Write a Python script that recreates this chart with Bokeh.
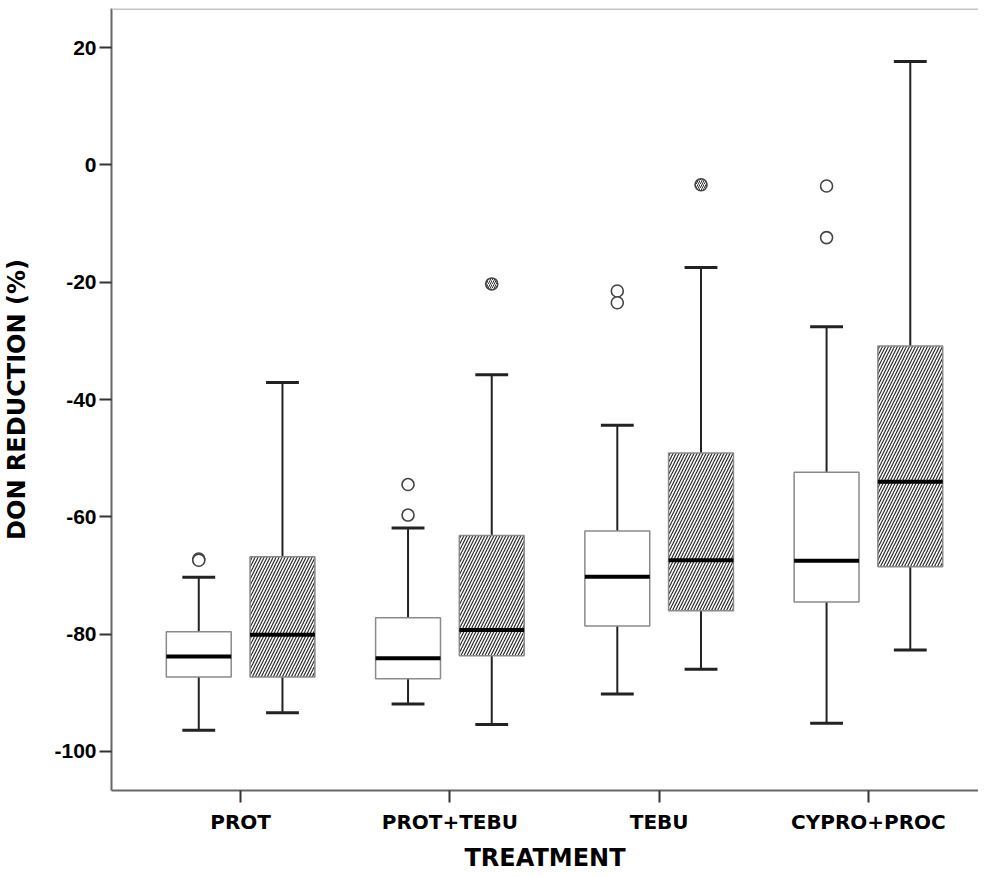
from bokeh.plotting import figure
from bokeh.models import Range1d, FixedTicker, Span, ColumnDataSource
from bokeh.embed import file_html
from bokeh.resources import INLINE

# ---- data ----
categories = ["PROT", "PROT+TEBU", "TEBU", "CYPRO+PROC"]

# first group (open boxes)
w_lower = [-96.4, -91.9, -90.2, -95.2]
w_q1 = [-87.3, -87.6, -78.6, -74.5]
w_median = [-83.8, -84.1, -70.2, -67.5]
w_q3 = [-79.6, -77.2, -62.4, -52.4]
w_upper = [-70.3, -61.9, -44.4, -27.6]
w_out_cat = [0, 0, 1, 1, 2, 2, 3, 3]
w_out_val = [-67.2, -67.4, -54.5, -59.7, -21.5, -23.5, -3.6, -12.4]

# second group (hatched boxes)
h_lower = [-93.4, -95.4, -86.0, -82.7]
h_q1 = [-87.3, -83.7, -76.0, -68.5]
h_median = [-80.1, -79.3, -67.4, -54.0]
h_q3 = [-66.8, -63.2, -49.1, -30.9]
h_upper = [-37.1, -35.8, -17.5, 17.6]
h_out_cat = [1, 2]
h_out_val = [-20.3, -3.4]

y_ticks = [20, 0, -20, -40, -60, -80, -100]
y_tick_labels = ["20", "0", "-20", "-40", "-60", "-80", "-100"]

# ---- styling constants ----
OFFSET = 0.2
BOX_W = 0.31
CAP_W = 0.157
FONT = "DejaVu Sans"
TICK_FONT = "Liberation Sans"

Y_START, Y_END = -106.65, 26.65

p = figure(width=978, height=874, output_backend="svg", toolbar_location=None,
           x_range=Range1d(0.383, 4.526), y_range=Range1d(Y_START, Y_END),
           min_border_left=105, min_border_right=0, min_border_top=8,
           min_border_bottom=10)
p.outline_line_color = None
p.xgrid.visible = False
p.ygrid.visible = False
p.background_fill_color = "white"

cat_x = [i + 1 for i in range(len(categories))]


def draw_group(shift, lower, q1, med, q3, upper, hatched):
    xs = [c + shift for c in cat_x]
    src = ColumnDataSource(dict(x=xs, lower=lower, q1=q1, med=med, q3=q3, upper=upper,
                                xl=[x - CAP_W / 2 for x in xs], xr=[x + CAP_W / 2 for x in xs],
                                bl=[x - BOX_W / 2 for x in xs], br=[x + BOX_W / 2 for x in xs]))
    # whiskers
    p.segment(x0="x", y0="q3", x1="x", y1="upper", source=src, line_color="#222222", line_width=2)
    p.segment(x0="x", y0="q1", x1="x", y1="lower", source=src, line_color="#222222", line_width=2)
    # caps
    p.segment(x0="xl", y0="upper", x1="xr", y1="upper", source=src, line_color="#222222", line_width=3)
    p.segment(x0="xl", y0="lower", x1="xr", y1="lower", source=src, line_color="#222222", line_width=3)
    # boxes
    if hatched:
        p.vbar(x="x", width=BOX_W, top="q3", bottom="q1", source=src, fill_color="white",
               line_color="#8a8a8a", line_width=1.5, hatch_pattern="/", hatch_color="#2a2a2a",
               hatch_scale=6, hatch_weight=1.2)
    else:
        p.vbar(x="x", width=BOX_W, top="q3", bottom="q1", source=src, fill_color="white",
               line_color="#8a8a8a", line_width=1.5)
    # medians
    p.segment(x0="bl", y0="med", x1="br", y1="med", source=src, line_color="black", line_width=4)


draw_group(-OFFSET, w_lower, w_q1, w_median, w_q3, w_upper, False)
draw_group(OFFSET, h_lower, h_q1, h_median, h_q3, h_upper, True)

# outliers
p.scatter(x=[cat_x[c] - OFFSET for c in w_out_cat], y=w_out_val, size=12, marker="circle",
          fill_color="white", line_color="#444444", line_width=1.6)
p.scatter(x=[cat_x[c] + OFFSET for c in h_out_cat], y=h_out_val, size=12, marker="circle",
          fill_color="white", line_color="#444444", line_width=1.6,
          hatch_pattern="/", hatch_color="#333333", hatch_scale=4, hatch_weight=1)

# top frame line
p.add_layout(Span(location=Y_END, dimension="width", line_color="#c4c4c4", line_width=3))

# axes
p.xaxis.ticker = FixedTicker(ticks=cat_x)
p.xaxis.major_label_overrides = {c: n for c, n in zip(cat_x, categories)}
p.yaxis.ticker = FixedTicker(ticks=y_ticks)
p.yaxis.major_label_overrides = {t: s for t, s in zip(y_ticks, y_tick_labels)}
p.xaxis.minor_tick_line_color = None
p.yaxis.minor_tick_line_color = None

for ax in (p.xaxis[0], p.yaxis[0]):
    ax.axis_line_color = "#666666"
    ax.axis_line_width = 2
    ax.major_tick_line_color = "#333333"
    ax.major_tick_line_width = 2
    ax.major_tick_in = 0
    ax.major_tick_out = 12
    ax.major_label_text_font = FONT
    ax.major_label_text_font_style = "bold"
    ax.major_label_text_color = "black"
    ax.axis_label_text_font = FONT
    ax.axis_label_text_font_style = "bold"
    ax.axis_label_text_color = "black"
    ax.axis_label_text_font_size = "24px"

p.yaxis.major_label_text_font = TICK_FONT
p.xaxis.major_label_text_font_size = "20px"
p.yaxis.major_label_text_font_size = "21px"
p.xaxis.major_label_standoff = 7
p.yaxis.major_label_standoff = 3
p.xaxis.axis_label = "TREATMENT"
p.yaxis.axis_label = "DON REDUCTION (%)"
p.xaxis.axis_label_standoff = 7
p.yaxis.axis_label_standoff = 20

open("out.html", "w").write(file_html(p, INLINE))
